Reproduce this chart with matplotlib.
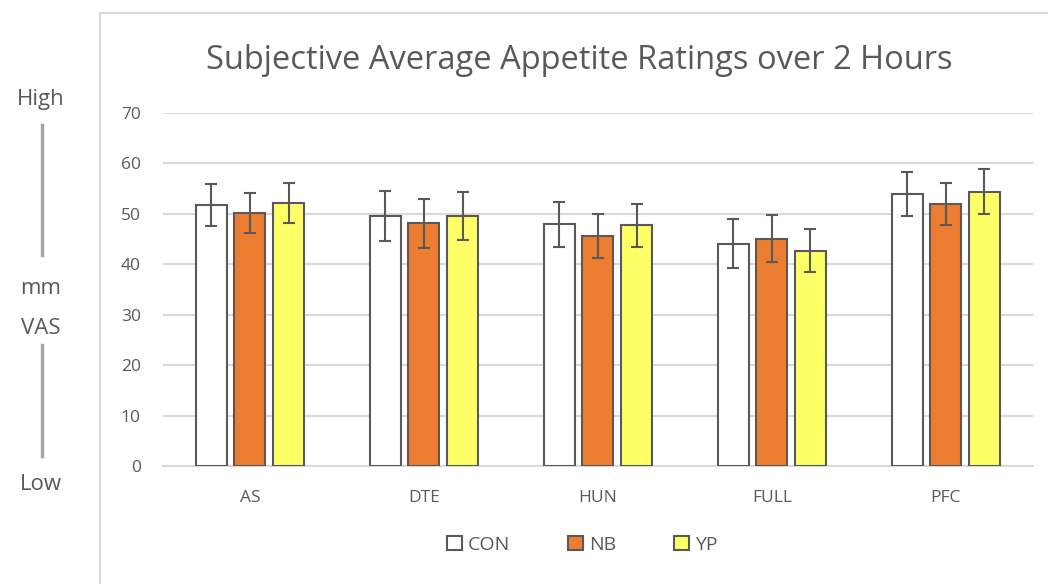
from matplotlib import pyplot
from matplotlib.lines import Line2D
import numpy

categories = ['AS', 'DTE', 'HUN', 'FULL', 'PFC']
series_names = ['CON', 'NB', 'YP']
con_values = [51.8, 49.6, 47.9, 44.1, 54.0]
nb_values = [50.2, 48.1, 45.6, 45.1, 51.9]
yp_values = [52.2, 49.6, 47.7, 42.7, 54.4]
con_err = [4.2, 4.9, 4.4, 4.8, 4.4]
nb_err = [4.0, 4.9, 4.3, 4.6, 4.2]
yp_err = [4.0, 4.7, 4.2, 4.3, 4.4]
y_ticks = [0, 10, 20, 30, 40, 50, 60, 70]

grey = '#595959'
colors = ['white', '#ed7d31', '#ffff66']

pyplot.rcParams['font.family'] = ['Open Sans', 'DejaVu Sans']

fig = pyplot.figure(figsize=(10.48, 5.84), dpi=100)
ax = fig.add_axes([0.1555, 0.202, 0.83, 0.6045])

x = numpy.arange(len(categories))
width = 0.178
offset = 0.222
values = [con_values, nb_values, yp_values]
errors = [con_err, nb_err, yp_err]
for i in range(3):
    ax.bar(x + (i - 1) * offset, values[i], width, yerr=errors[i],
           color=colors[i], edgecolor=grey, linewidth=1.5, label=series_names[i],
           error_kw={'ecolor': grey, 'elinewidth': 1.5, 'capsize': 4.5, 'capthick': 1.5},
           zorder=3)

ax.set_xlim(-0.5, len(categories) - 0.5)
ax.set_ylim(0, 70)
ax.set_yticks(y_ticks)
ax.set_xticks(x)
ax.set_xticklabels(categories)
ax.grid(axis='y', color='#d9d9d9', linewidth=1.5, zorder=0)
for s in ['top', 'right', 'left']:
    ax.spines[s].set_visible(False)
ax.spines['bottom'].set_color('#d9d9d9')
ax.spines['bottom'].set_linewidth(1.5)
ax.tick_params(axis='both', length=0, labelsize=12.5, colors=grey)
ax.tick_params(axis='y', pad=16)
ax.tick_params(axis='x', pad=17)

fig.text(0.553, 0.897, 'Subjective Average Appetite Ratings over 2 Hours',
         ha='center', va='center', fontsize=23.5, color=grey)

leg = ax.legend(loc='center', bbox_to_anchor=(0.482, -0.224), ncol=3, frameon=False,
                fontsize=14, handlelength=0.75, handleheight=0.75, columnspacing=3.0,
                handletextpad=0.3, labelcolor=grey)

# frame round the chart area
fig.add_artist(Line2D([100 / 1048, 100 / 1048], [0, 1 - 13 / 584], color='#d9d9d9', linewidth=1.5))
fig.add_artist(Line2D([100 / 1048, 1], [1 - 13 / 584, 1 - 13 / 584], color='#d9d9d9', linewidth=1.5))

# the VAS scale notes on the left
for label, yp in [('High', 100), ('mm', 288), ('VAS', 328), ('Low', 485)]:
    fig.text(41 / 1048, 1 - yp / 584, label, ha='center', va='center', fontsize=16, color=grey)
fig.add_artist(Line2D([42 / 1048, 42 / 1048], [1 - 125 / 584, 1 - 255 / 584], color='#a6a6a6', linewidth=2.5))
fig.add_artist(Line2D([42 / 1048, 42 / 1048], [1 - 345 / 584, 1 - 456 / 584], color='#a6a6a6', linewidth=2.5))

fig.savefig('out.png')
